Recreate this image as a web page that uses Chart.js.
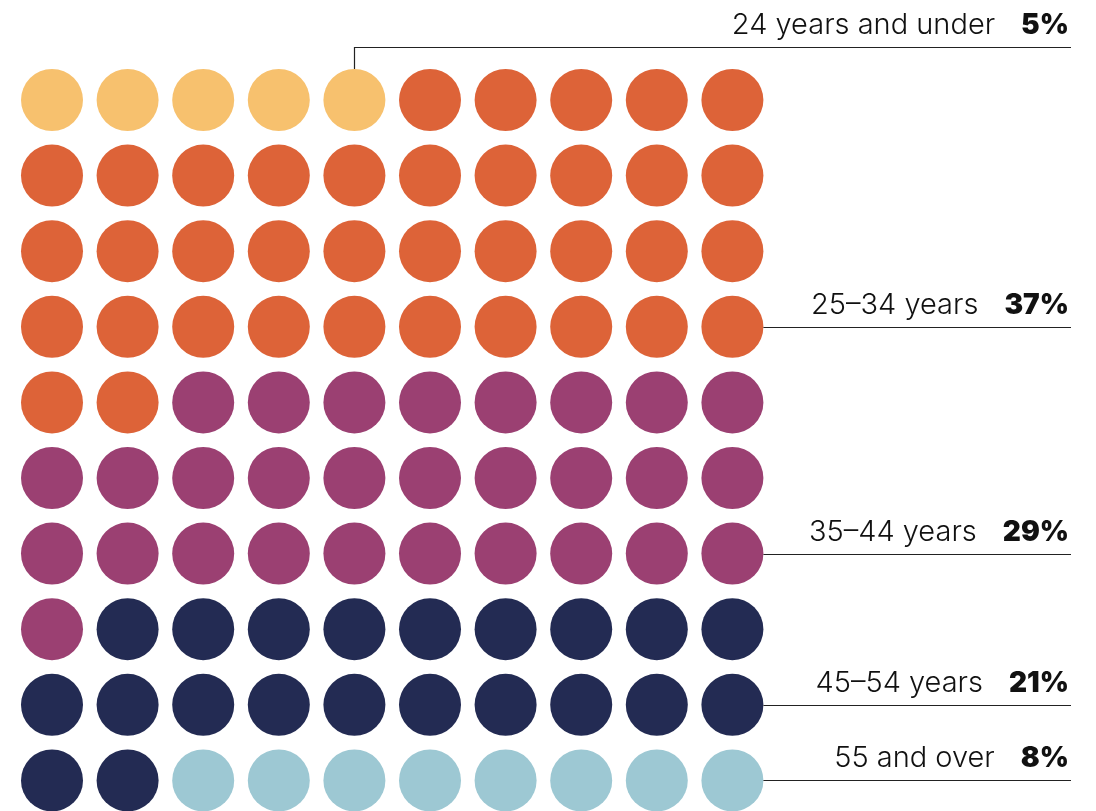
<!DOCTYPE html>
<html>
<head>
<meta charset="utf-8">
<script src="https://cdn.jsdelivr.net/npm/chart.js@4"></script>
<style>
	body { margin: 0; background: #fff; }
	#graph { display: block; }
</style>
</head>
<body>
<canvas id="graph" width="1096" height="811"></canvas>
<script>
var categories = ['24 years and under', '25\u201334 years', '35\u201344 years', '45\u201354 years', '55 and over'];
var percents = [5, 37, 29, 21, 8];
var colors = ['#F7C16E', '#DD6338', '#9B4072', '#232B53', '#9DC8D3'];

// grid: 10 x 10, filled row by row
var points = [];
var pointColors = [];
var n = 0;
percents.forEach((p, c) => {
	for (var k = 0; k < p; k++) {
		points.push({ x: n % 10, y: Math.floor(n / 10) });
		pointColors.push(colors[c]);
		n++;
	}
});

// where each leader line sits (row value)
var leaderRows = [-0.7, 3, 6, 8, 9];

const labelPlugin = {
	id: 'labels',
	afterDatasetsDraw(chart) {
		const c = chart.ctx;
		const xs = chart.scales.x;
		const ys = chart.scales.y;
		const r = 31;
		const right = 1071;
		c.save();
		c.strokeStyle = '#222';
		c.lineWidth = 1.2;
		categories.forEach((cat, i) => {
			var ly = Math.round(ys.getPixelForValue(leaderRows[i])) + 0.5;
			c.beginPath();
			if (i == 0) {
				// from the last yellow dot straight up, then right
				var last = points[percents[0] - 1];
				var px = Math.round(xs.getPixelForValue(last.x)) + 0.5;
				c.moveTo(px, ys.getPixelForValue(last.y) - r);
				c.lineTo(px, ly);
			} else {
				c.moveTo(xs.getPixelForValue(9) + r, ly);
			}
			c.lineTo(right, ly);
			c.stroke();

			c.fillStyle = '#111';
			c.textAlign = 'right';
			c.textBaseline = 'alphabetic';
			c.font = '900 28px Inter';
			var pct = percents[i] + '%';
			c.fillText(pct, right - 2, ly - 14);
			var w = c.measureText(pct).width;
			c.font = '300 29px Inter';
			c.fillText(cat, right - 2 - w - 26, ly - 14);
		});
		c.restore();
	}
};

const ctx = document.getElementById('graph').getContext('2d');

var graph = new Chart(ctx, {
	type: 'scatter',
	data: {
		datasets: [{
			data: points,
			backgroundColor: pointColors,
			borderWidth: 0,
			pointRadius: 31,
			pointHoverRadius: 31
		}]
	},
	options: {
		animation: false,
		responsive: false,
		layout: { padding: 0, autoPadding: false },
		scales: {
			x: { display: false, min: -52 / 75.6, max: -52 / 75.6 + 1096 / 75.6 },
			y: { display: false, reverse: true, min: -100 / 75.6, max: -100 / 75.6 + 811 / 75.6 }
		},
		plugins: {
			legend: { display: false },
			tooltip: { enabled: false }
		}
	},
	plugins: [labelPlugin]
});
</script>
</body>
</html>
